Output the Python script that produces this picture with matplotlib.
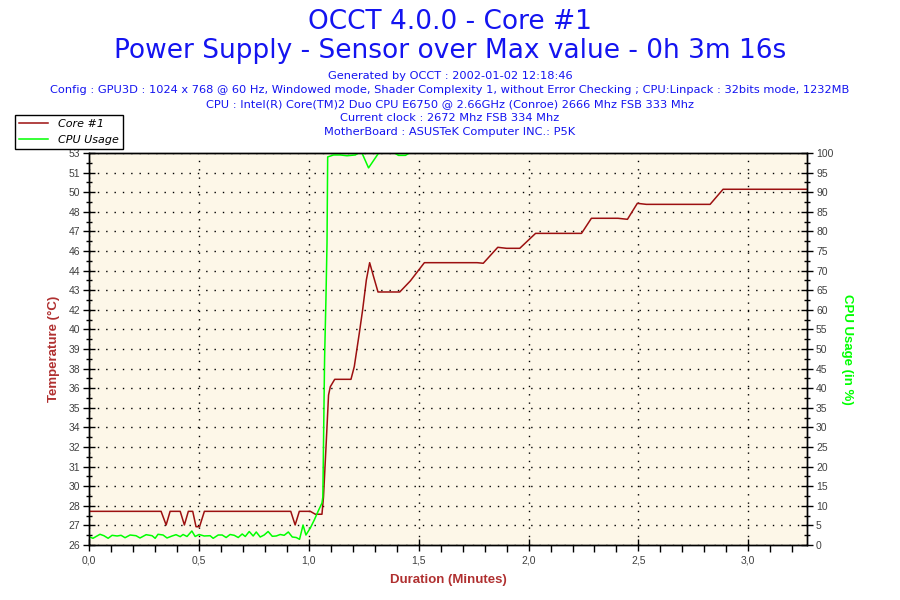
import matplotlib
matplotlib.use('Agg')
import matplotlib.pyplot as plt
from matplotlib.lines import Line2D
from matplotlib.ticker import FixedLocator, MultipleLocator, FuncFormatter
import numpy as np

# Core #1 temperature (axis units), time in minutes
core_t = [0.0, 0.328, 0.351, 0.369, 0.415, 0.434, 0.452, 0.472, 0.487, 0.503,
          0.525, 0.918, 0.938, 0.957, 1.007, 1.030, 1.060, 1.067, 1.080, 1.090,
          1.098, 1.118, 1.192, 1.207, 1.230, 1.245, 1.262, 1.277, 1.295, 1.315,
          1.414, 1.462, 1.526, 1.766, 1.794, 1.860, 1.900, 1.960, 2.032, 2.241,
          2.286, 2.407, 2.450, 2.495, 2.536, 2.826, 2.885, 3.267]
core_temp = [28.32, 28.32, 27.38, 28.32, 28.32, 27.38, 28.32, 28.32, 27.26, 27.26,
             28.32, 28.32, 27.38, 28.32, 28.32, 28.12, 28.12, 29.31, 33.24, 36.34,
             36.91, 37.42, 37.42, 38.29, 40.61, 42.20, 44.27, 45.46, 44.49, 43.44,
             43.44, 44.20, 45.46, 45.46, 45.42, 46.52, 46.45, 46.45, 47.48, 47.48,
             48.52, 48.52, 48.45, 49.55, 49.48, 49.48, 50.52, 50.52]

# CPU usage (%)
cpu_t = [0.0, 0.018, 0.050, 0.068, 0.087, 0.105, 0.128, 0.146, 0.164, 0.187,
         0.214, 0.232, 0.260, 0.287, 0.301, 0.314, 0.337, 0.355, 0.378, 0.396,
         0.415, 0.428, 0.446, 0.468, 0.483, 0.501, 0.524, 0.551, 0.565, 0.588,
         0.606, 0.624, 0.642, 0.661, 0.679, 0.697, 0.711, 0.729, 0.747, 0.761,
         0.779, 0.797, 0.815, 0.834, 0.852, 0.870, 0.888, 0.907, 0.925, 0.943,
         0.958, 0.974, 0.987, 1.007, 1.025, 1.043, 1.060, 1.064, 1.072, 1.078,
         1.083, 1.086, 1.113, 1.144, 1.174, 1.212, 1.226, 1.242, 1.272, 1.318,
         1.390, 1.408, 1.440, 1.458, 3.267]
cpu_usage = [2.13, 1.71, 2.73, 2.37, 1.71, 2.47, 2.30, 2.47, 1.86, 2.55,
             2.37, 1.79, 2.63, 2.37, 1.71, 2.73, 2.55, 1.79, 2.30, 2.63,
             2.13, 2.68, 2.17, 3.57, 2.17, 2.68, 2.30, 2.37, 1.71, 2.55,
             2.55, 1.91, 2.68, 2.47, 1.91, 2.81, 2.17, 3.44, 2.30, 3.32,
             2.04, 2.55, 3.44, 2.22, 2.30, 2.68, 2.47, 3.32, 2.04, 1.91,
             1.45, 5.10, 2.55, 4.34, 6.38, 8.67, 10.71, 12.24, 47.7, 62.5,
             77.0, 99.0, 99.5, 99.5, 99.3, 99.5, 100, 100, 96.2, 100,
             100, 99.4, 99.4, 100, 100]

temp_ticklabels = ['26', '27', '28', '30', '31', '32', '34', '35', '36', '38', '39',
                   '40', '42', '43', '44', '46', '47', '48', '50', '51', '53']
temp_min, temp_max = 26.0, 53.02
duration = 3.267

title = 'OCCT 4.0.0 - Core #1'
subtitle = 'Power Supply - Sensor over Max value - 0h 3m 16s'
info_lines = [
    'Generated by OCCT : 2002-01-02 12:18:46',
    'Config : GPU3D : 1024 x 768 @ 60 Hz, Windowed mode, Shader Complexity 1, without Error Checking ; CPU:Linpack : 32bits mode, 1232MB',
    'CPU : Intel(R) Core(TM)2 Duo CPU E6750 @ 2.66GHz (Conroe) 2666 Mhz FSB 333 Mhz',
    'Current clock : 2672 Mhz FSB 334 Mhz',
    'MotherBoard : ASUSTeK Computer INC.: P5K',
]

red = '#9C1010'
green = '#00FF00'
blue = '#1414F0'
label_red = '#B03030'

fig = plt.figure(figsize=(9, 6), dpi=100)
ax = fig.add_axes([89 / 900, 1 - 545 / 600, 718 / 900, 392 / 600])
ax.set_facecolor('#FDF7E8')
ax2 = ax.twinx()

ax.plot(core_t, core_temp, color=red, lw=1.1, zorder=3)
ax2.plot(cpu_t, cpu_usage, color=green, lw=1.1, zorder=2)

ax.set_xlim(0, duration)
ax.set_ylim(temp_min, temp_max)
ax2.set_ylim(0, 100)

yt = np.linspace(temp_min, temp_max, len(temp_ticklabels))
ax.yaxis.set_major_locator(FixedLocator(yt))
ax.set_yticklabels(temp_ticklabels)
ax.yaxis.set_minor_locator(FixedLocator((yt[:-1] + yt[1:]) / 2))
ax2.yaxis.set_major_locator(MultipleLocator(5))
ax2.yaxis.set_minor_locator(MultipleLocator(2.5))
ax.xaxis.set_major_locator(MultipleLocator(0.5))
ax.xaxis.set_minor_locator(MultipleLocator(0.1))
ax.xaxis.set_major_formatter(FuncFormatter(lambda v, p: f'{v:.1f}'.replace('.', ',')))

for a in (ax, ax2):
    a.tick_params(which='major', direction='inout', length=9, width=1, labelsize=7.5,
                  labelcolor='#404040', color='black')
    a.tick_params(which='minor', direction='inout', length=5, width=1, color='black')
    for s in a.spines.values():
        s.set_color('black')
        s.set_linewidth(1)
    for lab in a.get_xticklabels() + a.get_yticklabels():
        lab.set_family('Liberation Sans')
ax.tick_params(axis='x', which='minor', direction='out', length=5)
ax.tick_params(axis='x', which='major', pad=3)
ax.tick_params(axis='y', which='both', pad=2)
ax2.tick_params(axis='y', which='both', pad=2)

ax.grid(True, which='major', color='black', linestyle=(0, (1, 5)), linewidth=1)
ax.set_axisbelow(True)

ax.set_ylabel('Temperature (°C)', color=label_red, fontsize=9.5, fontweight='bold',
              labelpad=6, family='Liberation Sans')
ax2.set_ylabel('CPU Usage (in %)', color=green, fontsize=9.5, fontweight='bold',
               rotation=270, labelpad=14, family='Liberation Sans')
ax.set_xlabel('Duration (Minutes)', color=label_red, fontsize=9.5, fontweight='bold',
              labelpad=6, family='Liberation Sans')

fig.text(0.5, 1 - 22 / 600, title, ha='center', va='center', color=blue, fontsize=19)
fig.text(0.5, 1 - 51 / 600, subtitle, ha='center', va='center', color=blue, fontsize=19)
for i, line in enumerate(info_lines):
    fig.text(0.5, 1 - (76 + i * 14) / 600, line, ha='center', va='center',
             color=blue, fontsize=8.2)

handles = [Line2D([], [], color=red, lw=1.1), Line2D([], [], color=green, lw=1.1)]
leg = fig.legend(handles, ['Core #1', 'CPU Usage'], loc='upper left',
                 bbox_to_anchor=(15 / 900, 1 - 115 / 600), borderaxespad=0,
                 fancybox=False, edgecolor='black', framealpha=1,
                 prop={'style': 'italic', 'size': 8}, handlelength=2.6,
                 handletextpad=0.9, borderpad=0.35, labelspacing=0.55)
leg.get_frame().set_linewidth(1)

fig.savefig('out.png', dpi=100)
